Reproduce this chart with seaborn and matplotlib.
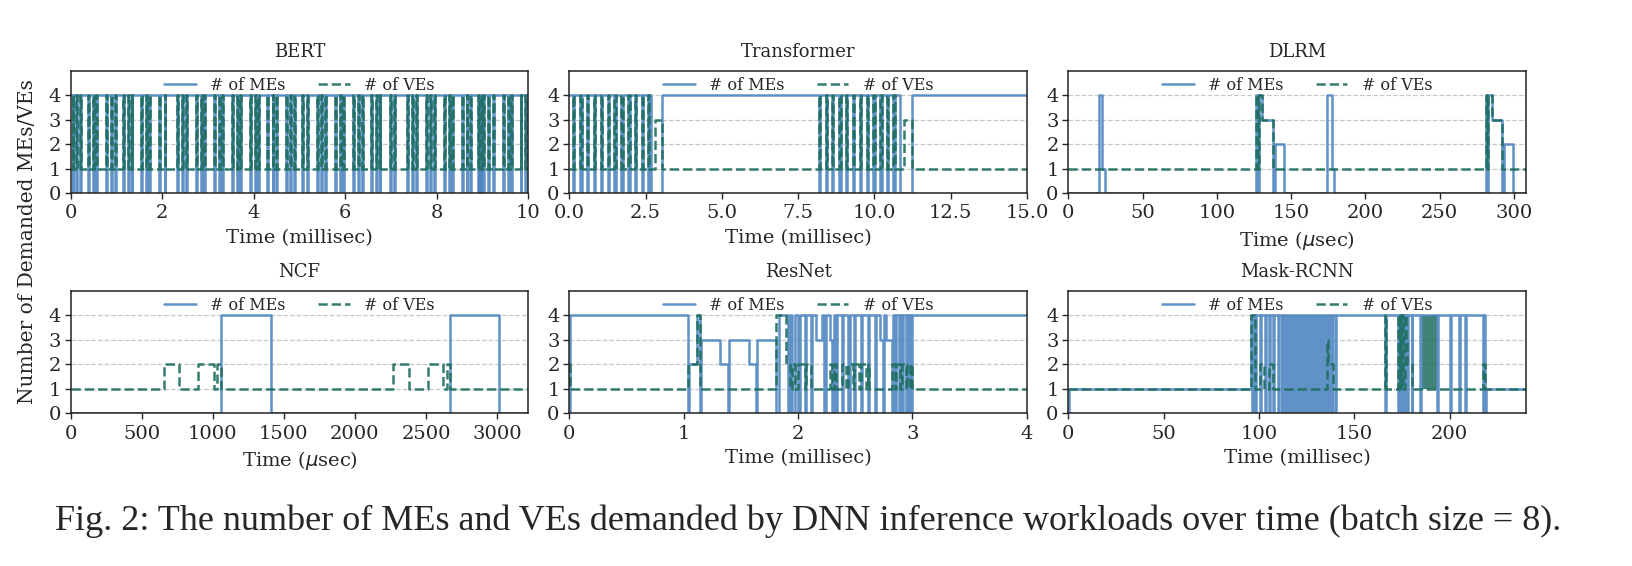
import numpy as np
import matplotlib.pyplot as plt
import seaborn as sns

# ---- data ----
# BERT, millisec: VE pulses (VE 1->4, ME 4->0 while a pulse is on)
bert_on = [0.04, 0.12, 0.20, 0.38, 0.48, 0.56, 0.78, 0.88, 0.96, 1.14, 1.25, 1.33,
           1.54, 1.64, 1.72, 1.94, 2.05, 2.33, 2.44, 2.52, 2.73, 2.84, 2.92,
           3.13, 3.24, 3.31, 3.53, 3.63, 3.71, 3.91, 4.02, 4.10, 4.30, 4.41, 4.49,
           4.70, 4.80, 4.88, 5.06, 5.16, 5.38, 5.48, 5.56, 5.78, 5.88, 5.96,
           6.18, 6.28, 6.36, 6.57, 6.67, 6.75, 6.97, 7.07, 7.36, 7.46, 7.54,
           7.76, 7.86, 7.94, 8.16, 8.26, 8.33, 8.55, 8.65, 8.72, 8.90, 8.96, 9.01,
           9.12, 9.22, 9.45, 9.55, 9.63, 9.83, 9.93]
bert_off = [0.06, 0.14, 0.22, 0.40, 0.50, 0.58, 0.80, 0.90, 0.98, 1.16, 1.27, 1.35,
            1.56, 1.66, 1.74, 1.96, 2.07, 2.35, 2.46, 2.54, 2.75, 2.86, 2.94,
            3.15, 3.26, 3.33, 3.55, 3.65, 3.73, 3.93, 4.04, 4.12, 4.32, 4.43, 4.51,
            4.72, 4.82, 4.90, 5.08, 5.18, 5.40, 5.50, 5.58, 5.80, 5.90, 5.98,
            6.20, 6.30, 6.38, 6.59, 6.69, 6.77, 6.99, 7.09, 7.38, 7.48, 7.56,
            7.78, 7.88, 7.96, 8.18, 8.28, 8.35, 8.57, 8.67, 8.74, 8.92, 8.98, 9.03,
            9.14, 9.24, 9.47, 9.57, 9.65, 9.85, 9.95]
bert_me_burst = [8.90, 9.02]

# Transformer, millisec
trf_on = [0.13, 0.36, 0.58, 0.81, 1.03, 1.26, 1.48, 1.71, 1.94, 2.16, 2.39, 2.58,
          8.18, 8.40, 8.62, 8.85, 9.07, 9.30, 9.52, 9.75, 9.97, 10.20, 10.42, 10.62]
trf_off = [0.17, 0.40, 0.62, 0.85, 1.07, 1.30, 1.52, 1.75, 1.98, 2.20, 2.43, 2.62,
           8.22, 8.44, 8.66, 8.89, 9.11, 9.34, 9.56, 9.79, 10.01, 10.24, 10.46, 10.66]
trf_t = [2.67, 2.80, 3.03, 10.85, 10.97, 11.22]
trf_me = [0, 0, 4, 0, 0, 4]
trf_ve = [1, 3, 1, 1, 3, 1]

# DLRM, usec
dlrm_t = [0, 20.6, 22.7, 25.0, 126.6, 127.6, 128.3, 130.6, 137.8, 138.9, 145.2,
          173.8, 177.7, 179.0, 281.0, 282.0, 282.7, 285.0, 292.2, 293.3, 299.6, 308]
dlrm_me = [0, 4, 1, 0, 4, 0, 4, 3, 0, 2, 0, 4, 1, 0, 4, 0, 4, 3, 0, 2, 0, 0]
dlrm_ve = [1, 1, 1, 1, 4, 1, 4, 3, 1, 1, 1, 1, 1, 1, 4, 1, 4, 3, 1, 1, 1, 1]

# NCF, usec
ncf_t = [0, 655, 760, 898, 1007, 1030, 1058, 1408, 2270, 2380, 2512, 2621, 2645, 2670, 3017, 3220]
ncf_me = [0, 0, 0, 0, 0, 0, 4, 0, 0, 0, 0, 0, 0, 4, 0, 0]
ncf_ve = [1, 2, 1, 2, 1, 2, 1, 1, 2, 1, 2, 1, 2, 1, 1, 1]

# ResNet, millisec
resnet_t = [0, 0.01, 1.04, 1.05, 1.12, 1.14, 1.15, 1.32, 1.39, 1.40, 1.57, 1.63, 1.64,
            1.81, 1.83, 1.89, 1.91, 1.93, 1.95, 1.97, 2.00, 2.02, 2.06, 2.07, 2.11,
            2.12, 2.16, 2.21, 2.23, 2.24, 2.28, 2.30, 2.31, 2.33, 2.34, 2.38, 2.39,
            2.42, 2.44, 2.45, 2.48, 2.49, 2.50, 2.53, 2.55, 2.56, 2.59, 2.61, 2.62,
            2.67, 2.68, 2.72, 2.74, 2.75, 2.77, 2.82, 2.83, 2.85, 2.86, 2.88, 2.89,
            2.91, 2.92, 2.94, 2.95, 2.97, 2.98, 2.99, 3.00, 4.00]
resnet_me = [0, 4, 0, 2, 4, 0, 3, 2, 0, 3, 2, 0, 3,
             0, 4, 4, 0, 4, 0, 4, 0, 4, 0, 4, 0,
             4, 3, 4, 0, 4, 3, 0, 4, 0, 4, 0, 4,
             4, 0, 4, 4, 0, 4, 4, 0, 4, 4, 0, 4,
             0, 4, 3, 0, 4, 3, 0, 4, 0, 4, 0, 4,
             0, 4, 0, 4, 0, 4, 0, 4, 4]
resnet_ve = [2, 1, 2, 2, 4, 1, 1, 1, 1, 1, 1, 1, 1,
             4, 4, 2, 2, 1, 2, 1, 2, 2, 1, 2, 1,
             1, 1, 1, 1, 1, 2, 1, 2, 1, 1, 2, 2,
             1, 2, 2, 1, 2, 2, 1, 2, 2, 1, 2, 1,
             1, 1, 1, 1, 1, 1, 2, 2, 1, 2, 2, 1,
             2, 2, 1, 2, 2, 1, 2, 1, 1]

# Mask-RCNN, millisec
mrcnn_t = [0, 0.4, 96.0, 96.6, 97.2, 98.0, 98.4, 100.5, 101.2, 102.5, 103.0, 103.5,
           105.0, 105.6, 107.2, 107.8, 110.0, 110.5, 135.6, 136.4, 139.0, 139.8, 140.3,
           166.0, 166.8, 173.0, 173.5, 174.0, 174.6, 175.2, 175.8, 176.4, 177.0, 177.8,
           178.4, 180.0, 180.5, 184.5, 185.0, 193.5, 194.0, 200.0, 200.5, 205.0, 205.5,
           208.0, 208.5, 217.5, 218.2, 218.8, 219.3, 240.0]
mrcnn_me = [0, 1, 4, 0, 4, 0, 4, 0, 4, 4, 0, 4,
            0, 4, 0, 4, 0, 4, 4, 4, 4, 0, 4,
            0, 4, 0, 4, 0, 4, 0, 4, 0, 4, 0,
            4, 0, 4, 0, 4, 0, 4, 0, 4, 0, 4,
            0, 4, 0, 4, 0, 1, 1]
mrcnn_ve = [1, 1, 4, 4, 4, 1, 1, 2, 2, 1, 1, 1,
            2, 2, 1, 1, 1, 1, 3, 2, 1, 1, 1,
            4, 1, 4, 1, 4, 1, 4, 1, 4, 3, 2,
            2, 1, 1, 1, 1, 1, 1, 1, 1, 1, 1,
            1, 1, 2, 2, 1, 1, 1]
mrcnn_me_burst = [111.5, 139.5]
mrcnn_ve_burst = [185.5, 193.5]

ME_COLOR = '#4f86c2'
VE_COLOR = '#1e6e5f'


def pulses(on, off, base, high, t_end):
    t, y = [0.0], [base]
    for a, b in zip(on, off):
        t += [a, b]
        y += [high, base]
    t.append(t_end)
    y.append(base)
    return np.array(t), np.array(y)


def merge(t_a, y_a, t_b, y_b):
    # overlay a second step sequence (events t_b) on a pulse sequence
    t = np.concatenate([t_a, t_b])
    y = np.concatenate([y_a, y_b])
    order = np.argsort(t, kind='stable')
    return t[order], y[order]


sns.set_theme(style='ticks')
plt.rcParams['font.family'] = ['DejaVu Serif']
plt.rcParams['axes.edgecolor'] = '#222222'
plt.rcParams['axes.linewidth'] = 1.1

fig = plt.figure(figsize=(16.32, 5.66), dpi=100)
W, H = 1632, 566
lefts = [70.7, 569.3, 1068.3]
tops = [70.6, 290.7]
aw, ah = 457.6, 122.7
axes = []
for r in range(2):
    for c in range(3):
        ax = fig.add_axes([lefts[c] / W, 1 - (tops[r] + ah) / H, aw / W, ah / H])
        axes.append(ax)

# build panels
bt, bme = pulses(bert_on, bert_off, 4, 0, 10)
_, bve = pulses(bert_on, bert_off, 1, 4, 10)

tt, tme = pulses(trf_on, trf_off, 4, 0, 15)
_, tve = pulses(trf_on, trf_off, 1, 4, 15)
tt_me, tme = merge(tt, tme, np.array(trf_t), np.array(trf_me))
tt_ve, tve = merge(tt, tve, np.array(trf_t), np.array(trf_ve))

panels = [
    ('BERT', bt, bme, bt, bve, (0, 10), [0, 2, 4, 6, 8, 10], 'Time (millisec)'),
    ('Transformer', tt_me, tme, tt_ve, tve, (0, 15), [0, 2.5, 5, 7.5, 10, 12.5, 15], 'Time (millisec)'),
    ('DLRM', dlrm_t, dlrm_me, dlrm_t, dlrm_ve, (0, 308), [0, 50, 100, 150, 200, 250, 300], r'Time ($\mu$sec)'),
    ('NCF', ncf_t, ncf_me, ncf_t, ncf_ve, (0, 3220), [0, 500, 1000, 1500, 2000, 2500, 3000], r'Time ($\mu$sec)'),
    ('ResNet', resnet_t, resnet_me, resnet_t, resnet_ve, (0, 4), [0, 1, 2, 3, 4], 'Time (millisec)'),
    ('Mask-RCNN', mrcnn_t, mrcnn_me, mrcnn_t, mrcnn_ve, (0, 240), [0, 50, 100, 150, 200], 'Time (millisec)'),
]

for ax, (name, tm, me, tv, ve, xlim, xt, xl) in zip(axes, panels):
    ax.yaxis.grid(True, linestyle='--', color='#c8c8c8', linewidth=0.9)
    ax.set_axisbelow(True)
    sns.lineplot(x=np.asarray(tm, dtype=float), y=np.asarray(me, dtype=float), ax=ax,
                 drawstyle='steps-post', estimator=None, sort=False,
                 color=ME_COLOR, linewidth=1.8, alpha=0.9, label='# of MEs')
    sns.lineplot(x=np.asarray(tv, dtype=float), y=np.asarray(ve, dtype=float), ax=ax,
                 drawstyle='steps-post', estimator=None, sort=False,
                 color=VE_COLOR, linewidth=1.8, linestyle='--', alpha=0.9, label='# of VEs')
    ax.set_xlim(*xlim)
    ax.set_ylim(0, 5)
    ax.set_yticks([0, 1, 2, 3, 4])
    ax.set_xticks(xt)
    if name == 'Transformer':
        ax.set_xticklabels(['%.1f' % v for v in xt])
    ax.tick_params(labelsize=14, length=4, width=1, direction='out', pad=3)
    ax.tick_params(axis='x', pad=4)
    ax.set_xlabel(xl, fontsize=14, labelpad=5)
    ax.set_ylabel('')
    ax.set_title(name, fontsize=13, pad=10)
    ax.legend(loc='upper center', ncol=2, frameon=False, fontsize=11.5,
              handlelength=2.0, handletextpad=0.9, columnspacing=2.0,
              borderaxespad=0.0)
    for s in ax.spines.values():
        s.set_visible(True)

# dense switching regions
axes[0].fill_between(bert_me_burst, 0, 4, color=ME_COLOR, alpha=0.9, linewidth=0)
axes[5].fill_between(mrcnn_me_burst, 0, 4, color=ME_COLOR, alpha=0.9, linewidth=0)
axes[5].fill_between(mrcnn_ve_burst, 1, 4, color=VE_COLOR, alpha=0.85, linewidth=0)

fig.text(28 / W, 1 - 242 / H, 'Number of Demanded MEs/VEs', rotation=90,
         fontsize=14.5, ha='center', va='center')
fig.text(55 / W, 1 - 521 / H,
         'Fig. 2: The number of MEs and VEs demanded by DNN inference workloads over time (batch size = 8).',
         fontsize=26, family=['Liberation Serif'], ha='left', va='center')

fig.savefig('out.png', dpi=100)
